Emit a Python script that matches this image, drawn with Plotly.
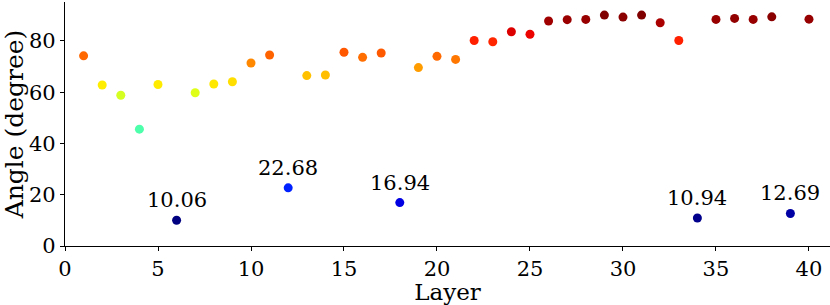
import numpy as np
import plotly.graph_objects as go

layers = list(range(1, 41))
angles = [74.2, 62.8, 58.8, 45.6, 63.0, 10.06, 59.8, 63.2, 64.1, 71.4,
          74.5, 22.68, 66.5, 66.7, 75.6, 73.6, 75.3, 16.94, 69.6, 74.0,
          72.8, 80.2, 79.7, 83.6, 82.6, 87.8, 88.3, 88.4, 90.1, 89.3,
          90.1, 87.1, 80.2, 10.94, 88.4, 88.8, 88.4, 89.4, 12.69, 88.5]
labeled_layers = [6, 12, 18, 34, 39]
x_ticks = [0, 5, 10, 15, 20, 25, 30, 35, 40]
y_ticks = [0, 20, 40, 60, 80]

# matplotlib "jet" colormap rebuilt as a plotly colorscale
def jet(t):
    r = np.interp(t, [0, 0.35, 0.66, 0.89, 1], [0, 0, 1, 1, 0.5])
    g = np.interp(t, [0, 0.125, 0.375, 0.64, 0.91, 1], [0, 0, 1, 1, 0, 0])
    b = np.interp(t, [0, 0.11, 0.34, 0.65, 1], [0.5, 1, 1, 0, 0])
    return "rgb(%d,%d,%d)" % (round(r * 255), round(g * 255), round(b * 255))

jet_scale = [[t, jet(t)] for t in np.linspace(0, 1, 101)]

FONT = "DejaVu Serif"

fig = go.Figure()
fig.add_trace(go.Scatter(
    x=layers, y=angles, mode="markers",
    marker=dict(size=9, color=angles, colorscale=jet_scale,
                cmin=min(angles), cmax=max(angles), line=dict(width=0)),
    showlegend=False, hoverinfo="x+y",
))

for L in labeled_layers:
    v = angles[L - 1]
    fig.add_annotation(x=L, y=v, text=f"{v:.2f}", showarrow=False,
                       yanchor="bottom", xanchor="center", yshift=6,
                       font=dict(family=FONT, size=21, color="black"))

axis_common = dict(showline=True, linecolor="black", linewidth=1.3,
                   ticks="outside", ticklen=4, tickwidth=1.2, tickcolor="black",
                   showgrid=False, zeroline=False, automargin=False,
                   tickfont=dict(family=FONT, size=21, color="black"))

fig.update_xaxes(range=[0, 41.13], tickvals=x_ticks,
                 title=dict(text="Layer", standoff=3,
                            font=dict(family=FONT, size=23, color="black")),
                 **axis_common)
fig.update_yaxes(range=[0, 95.2], tickvals=y_ticks,
                 title=dict(text="Angle (degree)", standoff=10,
                            font=dict(family=FONT, size=25, color="black")),
                 **axis_common)

fig.update_layout(width=830, height=305, margin=dict(l=65, r=0, t=2, b=59),
                  plot_bgcolor="white", paper_bgcolor="white")

fig.write_html("out.html", config={"displayModeBar": False},
               post_script="document.body.style.margin='0';document.body.style.padding='0';")
